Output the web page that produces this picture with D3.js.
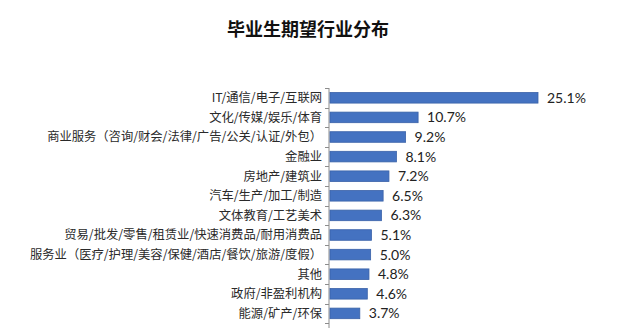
<!DOCTYPE html>
<html><head><meta charset="utf-8">
<script src="https://cdn.jsdelivr.net/npm/d3@7"></script>
<style>html,body{margin:0;padding:0;background:#fff;}svg{display:block;}</style>
</head><body>
<script>
const title = "毕业生期望行业分布";
const categories = [
  "IT/通信/电子/互联网",
  "文化/传媒/娱乐/体育",
  "商业服务（咨询/财会/法律/广告/公关/认证/外包）",
  "金融业",
  "房地产/建筑业",
  "汽车/生产/加工/制造",
  "文体教育/工艺美术",
  "贸易/批发/零售/租赁业/快速消费品/耐用消费品",
  "服务业（医疗/护理/美容/保健/酒店/餐饮/旅游/度假）",
  "其他",
  "政府/非盈利机构",
  "能源/矿产/环保"
];
const values = [25.1, 10.7, 9.2, 8.1, 7.2, 6.5, 6.3, 5.1, 5.0, 4.8, 4.6, 3.7];

const W = 640, H = 328;
const axisX = 329;
const svg = d3.select("body").append("svg").attr("width", W).attr("height", H);

svg.append("text").attr("x", 308).attr("y", 36).attr("text-anchor", "middle")
  .attr("font-family", "'Noto Sans CJK SC', sans-serif").attr("font-weight", "bold")
  .attr("font-size", 18).attr("fill", "#111").text(title);

const x = d3.scaleLinear().domain([0, 25.1]).range([axisX, 538]);
const y = d3.scaleBand().domain(categories).range([88, 88 + categories.length * 19.6]).paddingInner(0.46).paddingOuter(0.23);

// axis line & ticks at band boundaries
const step = y.step();
const y0 = y.range()[0];
svg.append("line").attr("x1", axisX).attr("x2", axisX).attr("y1", y0).attr("y2", H)
  .attr("stroke", "#8c8c8c").attr("stroke-width", 1);
const tickYs = d3.range(categories.length + 2).map(i => y0 + i * step);
svg.selectAll("line.tick").data(tickYs).enter().append("line").attr("class", "tick")
  .attr("x1", axisX - 4).attr("x2", axisX).attr("y1", d => Math.round(d) + 0.5).attr("y2", d => Math.round(d) + 0.5)
  .attr("stroke", "#8c8c8c");

// labels
svg.selectAll("text.cat").data(categories).enter().append("text").attr("class", "cat")
  .attr("x", 322).attr("y", d => y(d) + y.bandwidth() / 2).attr("dy", "0.36em")
  .attr("text-anchor", "end").attr("font-family", "'Noto Sans CJK SC', sans-serif")
  .attr("font-size", 12.3).attr("fill", "#2a2a2a").text(d => d);

// bars
svg.selectAll("rect.bar").data(values).enter().append("rect").attr("class", "bar")
  .attr("x", axisX + 1).attr("y", (d, i) => y(categories[i]))
  .attr("width", d => x(d) - axisX - 1).attr("height", y.bandwidth())
  .attr("fill", "#4472c1").attr("stroke", "#3a62a8").attr("stroke-width", 0.8);

// value labels
svg.selectAll("text.val").data(values).enter().append("text").attr("class", "val")
  .attr("x", d => x(d) + 9).attr("y", (d, i) => y(categories[i]) + y.bandwidth() / 2).attr("dy", "0.36em")
  .attr("font-family", "Lato, 'Open Sans', sans-serif").attr("font-size", 14).attr("fill", "#222")
  .text(d => d.toFixed(1) + "%");
</script>
</body></html>
